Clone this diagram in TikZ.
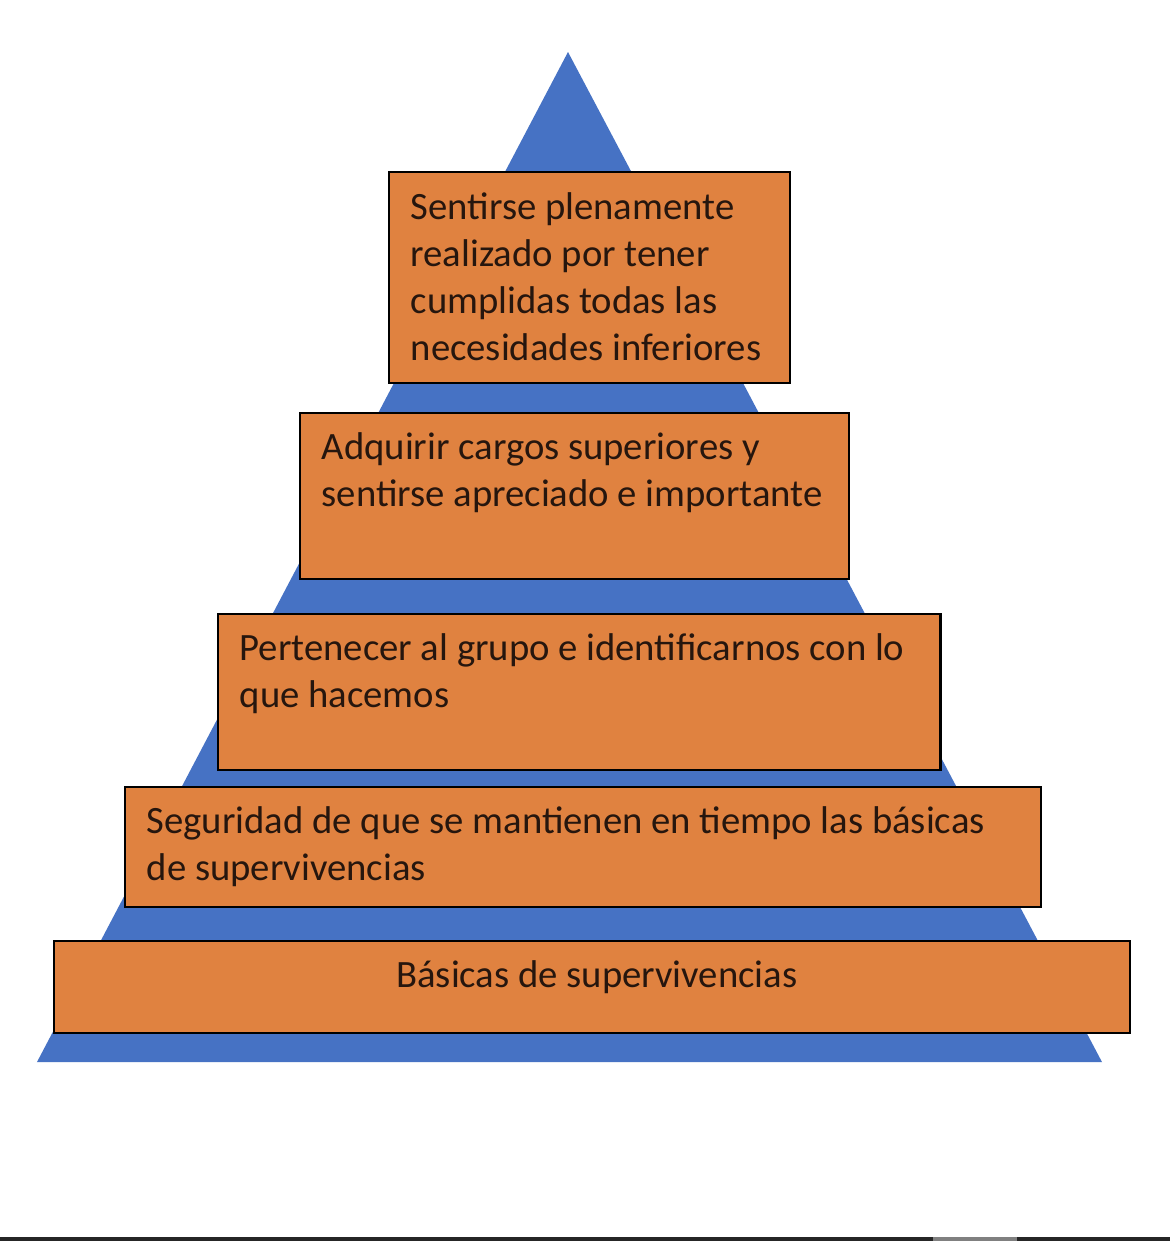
\documentclass[tikz,border=0pt]{standalone}
\usepackage{fontspec}
\setmainfont{Carlito}
\usetikzlibrary{positioning}
\definecolor{pyrblue}{RGB}{70,114,196}
\definecolor{steporange}{RGB}{224,130,64}
\definecolor{inktext}{RGB}{38,22,14}
\tikzset {
  % one step of the pyramid
  level box/.style = {
    draw = black,
    fill = steporange,
    line width = 0.6pt,
    anchor = north west,
    inner sep = 0
  },
  % text inside a step
  level text/.style = {
    inner sep = 0,
    align = left,
    text = inktext,
    font = \fontsize{11}{13.4}\selectfont
  }
}

\begin{document}
\begin{tikzpicture}[x=0.01cm, y=-0.01cm]
    \useasboundingbox[fill=white] (0,0) rectangle (1170,1241);
    \fill[pyrblue] (568,52) -- (1102,1062) -- (37,1062) -- cycle;

    \node[level box, minimum width=4.01cm, minimum height=2.11cm] (self) at (388,171) {};
    \node[level box, minimum width=5.49cm, minimum height=1.66cm] (esteem) at (299,412) {};
    \node[level box, minimum width=7.22cm, minimum height=1.56cm] (belong) at (217,613) {};
    \node[level box, minimum width=9.15cm, minimum height=1.20cm] (safety) at (124,786) {};
    \node[level box, minimum width=10.75cm, minimum height=0.92cm] (basic) at (53,940) {};

    \node[level text] (self-t) [below right=0.21cm and 0.22cm of self.north west]
      {Sentirse plenamente\\realizado por tener\\cumplidas todas las\\necesidades inferiores};
    \node[level text] (esteem-t) [below right=0.2cm and 0.22cm of esteem.north west]
      {Adquirir cargos superiores y\\sentirse apreciado e importante};
    \node[level text] (belong-t) [below right=0.2cm and 0.22cm of belong.north west]
      {Pertenecer al grupo e identificarnos con lo\\que hacemos};
    \node[level text] (safety-t) [below right=0.2cm and 0.22cm of safety.north west]
      {Seguridad de que se mantienen en tiempo las básicas\\de supervivencias};
    \node[level text] (basic-t) [below=0.2cm of basic.north, xshift=0.05cm]
      {Básicas de supervivencias};

    \fill[black!85] (0,1237) rectangle (1170,1241);
    \fill[gray] (933,1237) rectangle (1017,1241);
\end{tikzpicture}
\end{document}
